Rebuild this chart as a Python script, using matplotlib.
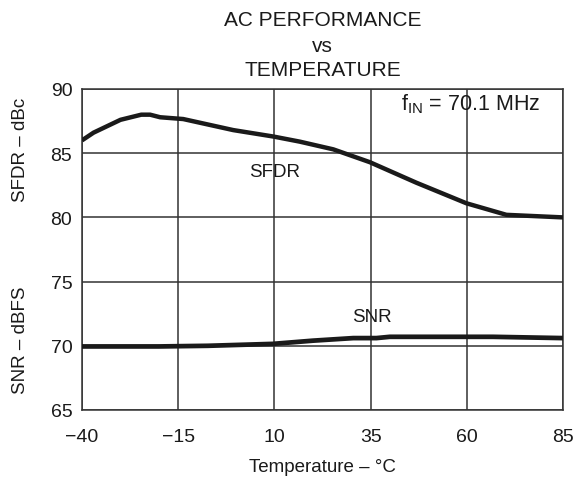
import matplotlib
matplotlib.use("Agg")
import matplotlib.pyplot as plt

plt.rcParams['font.family'] = ['Liberation Sans', 'DejaVu Sans']
plt.rcParams['mathtext.fontset'] = 'custom'
plt.rcParams['mathtext.rm'] = 'Liberation Sans'

temp_sfdr = [-40, -37, -30, -24.6, -22.3, -19.7, -13.7, -0.7, 9.7, 16.6, 25.3, 34.8, 46.9, 59.9, 70.3, 85]
sfdr = [86.0, 86.6, 87.6, 88.0, 88.0, 87.8, 87.66, 86.8, 86.3, 85.9, 85.3, 84.3, 82.7, 81.1, 80.2, 80.0]

temp_snr = [-40, -20, -7.3, 9.6, 20, 30.5, 36.5, 40, 66.8, 85]
snr = [69.95, 69.95, 70.0, 70.15, 70.4, 70.6, 70.6, 70.7, 70.7, 70.6]

xticks = [-40, -15, 10, 35, 60, 85]
xticklabels = ['\u221240', '\u221215', '10', '35', '60', '85']
yticks = [65, 70, 75, 80, 85, 90]

fig = plt.figure(figsize=(5.8, 4.81), dpi=100)
ax = fig.add_axes([82/580, 1-411/481, (563-82)/580, (411-90)/481])

ax.plot(temp_sfdr, sfdr, color='#1a1a1a', lw=3.2, solid_capstyle='butt', zorder=3)
ax.plot(temp_snr, snr, color='#1a1a1a', lw=3.4, solid_capstyle='butt', zorder=3)

ax.set_xlim(-40, 85)
ax.set_ylim(65, 90)
ax.set_xticks(xticks)
ax.set_xticklabels(xticklabels)
ax.set_yticks(yticks)
ax.grid(True, color='#333333', lw=1.1)
for s in ax.spines.values():
    s.set_color('#333333')
    s.set_linewidth(1.1)
ax.tick_params(axis='x', length=0, labelsize=14, pad=13, colors='#1a1a1a')
ax.tick_params(axis='y', length=0, labelsize=14, pad=7, colors='#1a1a1a')

ax.set_xlabel('Temperature \u2013 \u00b0C', fontsize=13.5, labelpad=9, color='#1a1a1a')

fig.text(21/580, 1-150/481, 'SFDR \u2013 dBc', rotation=90, ha='center', va='center', fontsize=13.5, color='#1a1a1a')
fig.text(21/580, 1-340/481, 'SNR \u2013 dBFS', rotation=90, ha='center', va='center', fontsize=13.5, color='#1a1a1a')

cx = (82+563)/2/580
fig.text(cx, 1-21/481, 'AC PERFORMANCE', ha='center', va='center', fontsize=15, color='#1a1a1a')
fig.text(cx, 1-46/481, 'vs', ha='center', va='center', fontsize=15, color='#1a1a1a')
fig.text(cx, 1-71/481, 'TEMPERATURE', ha='center', va='center', fontsize=15, color='#1a1a1a')

ax.text(10.1, 83.6, 'SFDR', ha='center', va='center', fontsize=13.5, color='#1a1a1a')
ax.text(35.3, 72.3, 'SNR', ha='center', va='center', fontsize=13.5, color='#1a1a1a')
ax.text(79, 88.9, r'f$_\mathrm{IN}$ = 70.1 MHz', ha='right', va='center', fontsize=15.5, color='#1a1a1a')

fig.savefig('out.png', dpi=100, facecolor='white')
